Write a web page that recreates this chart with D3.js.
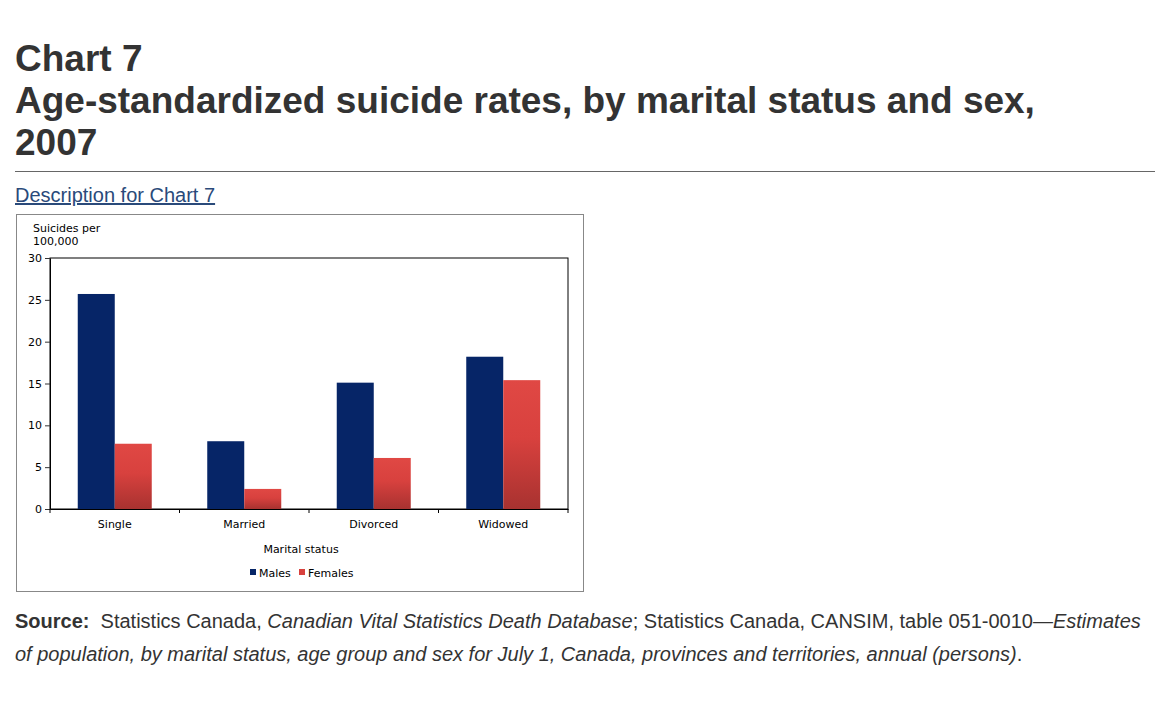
<!DOCTYPE html>
<html>
<head>
<meta charset="utf-8">
<script src="https://d3js.org/d3.v7.min.js"></script>
<style>
body { margin: 0; font-family: "Liberation Sans", Arial, sans-serif; color: #333; background: #fff; }
h1 { font-size: 37px; font-weight: bold; margin: 0; position: absolute; left: 15px; top: 38px; width: 1080px; line-height: 42px; }
hr.rule { position: absolute; left: 15px; top: 171px; width: 1140px; border: 0; border-top: 1px solid #666; margin: 0; }
a.desc { position: absolute; left: 15px; top: 184px; font-size: 20px; color: #2a4a7a; }
#chart { position: absolute; left: 16px; top: 214px; }
.source { position: absolute; left: 15px; top: 605px; width: 1140px; font-size: 20px; line-height: 33px; }
</style>
</head>
<body>
<h1>Chart 7<br>Age-standardized suicide rates, by marital status and sex, 2007</h1>
<hr class="rule">
<a class="desc" href="#">Description for Chart 7</a>
<div id="chart"></div>
<div class="source"><b>Source:</b>&nbsp; Statistics Canada, <i>Canadian Vital Statistics Death Database</i>; Statistics Canada, CANSIM, table 051-0010—<i>Estimates of population, by marital status, age group and sex for July 1, Canada, provinces and territories, annual (persons)</i>.</div>
<script>
const categories = ["Single", "Married", "Divorced", "Widowed"];
const series = ["Males", "Females"];
const males = [25.7, 8.1, 15.1, 18.2];
const females = [7.8, 2.4, 6.1, 15.4];
const yTicks = [0, 5, 10, 15, 20, 25, 30];

const W = 568, H = 378;
const margin = {left: 34, top: 44};
const plotW = 518, plotH = 251;
const FONT = "'DejaVu Sans', Verdana, sans-serif";

const svg = d3.select("#chart").append("svg")
    .attr("width", W).attr("height", H)
    .style("font-family", FONT);

svg.append("rect").attr("x", 0.5).attr("y", 0.5).attr("width", W - 1).attr("height", H - 1)
    .attr("fill", "#fff").attr("stroke", "#888");

const defs = svg.append("defs");
const grad = defs.append("linearGradient").attr("id", "redGrad").attr("x1", 0).attr("y1", 0).attr("x2", 0).attr("y2", 1);
grad.append("stop").attr("offset", "0%").attr("stop-color", "#e04844");
grad.append("stop").attr("offset", "45%").attr("stop-color", "#d8413e");
grad.append("stop").attr("offset", "100%").attr("stop-color", "#a83230");

const g = svg.append("g").attr("transform", `translate(${margin.left},${margin.top})`);

const x = d3.scaleBand().domain(categories).range([0, plotW]);
const xs = d3.scaleBand().domain(series).range([0, 74]);
const y = d3.scaleLinear().domain([0, 30]).range([plotH, 0]);

g.append("rect").attr("x", 0).attr("y", 0).attr("width", plotW).attr("height", plotH)
    .attr("fill", "none").attr("stroke", "#000");

const data = categories.map((c, i) => ({cat: c, vals: [males[i], females[i]]}));
const groups = g.selectAll(".grp").data(data).enter().append("g")
    .attr("transform", d => `translate(${x(d.cat) + x.bandwidth() / 2 - 37},0)`);
groups.selectAll("rect").data(d => d.vals.map((v, j) => ({s: series[j], v}))).enter().append("rect")
    .attr("x", d => xs(d.s))
    .attr("y", d => y(d.v))
    .attr("width", xs.bandwidth())
    .attr("height", d => plotH - y(d.v))
    .attr("fill", d => d.s === "Males" ? "#062567" : "url(#redGrad)");

const yAxis = g.append("g").call(d3.axisLeft(y).tickValues(yTicks).tickSize(5).tickSizeOuter(0));
const xAxis = g.append("g").attr("transform", `translate(0,${plotH})`)
    .call(d3.axisBottom(x).tickSize(0).tickSizeOuter(0));
[yAxis, xAxis].forEach(a => {
    a.attr("font-family", FONT);
    a.select(".domain").attr("stroke", "#000");
    a.selectAll("text").attr("fill", "#000").style("font-size", "11px");
});
xAxis.selectAll("text").attr("dy", "1.45em");
g.append("g").selectAll("line").data(d3.range(categories.length + 1)).enter().append("line")
    .attr("x1", i => i * x.bandwidth()).attr("x2", i => i * x.bandwidth())
    .attr("y1", plotH).attr("y2", plotH + 4).attr("stroke", "#000");

svg.append("text").attr("x", 17).attr("y", 18).style("font-size", "11px").text("Suicides per");
svg.append("text").attr("x", 17).attr("y", 31).style("font-size", "11px").text("100,000");
svg.append("text").attr("x", 285).attr("y", 339).attr("text-anchor", "middle")
    .style("font-size", "11px").text("Marital status");

const leg = svg.append("g").attr("transform", "translate(234,359)");
const legItems = [{s: "Males", x: 0}, {s: "Females", x: 49}];
legItems.forEach(d => {
    leg.append("rect").attr("x", d.x).attr("y", -4).attr("width", 6).attr("height", 6)
        .attr("fill", d.s === "Males" ? "#062567" : "#d8413e");
    leg.append("text").attr("x", d.x + 9).attr("y", 4).style("font-size", "11px").text(d.s);
});
</script>
</body>
</html>
